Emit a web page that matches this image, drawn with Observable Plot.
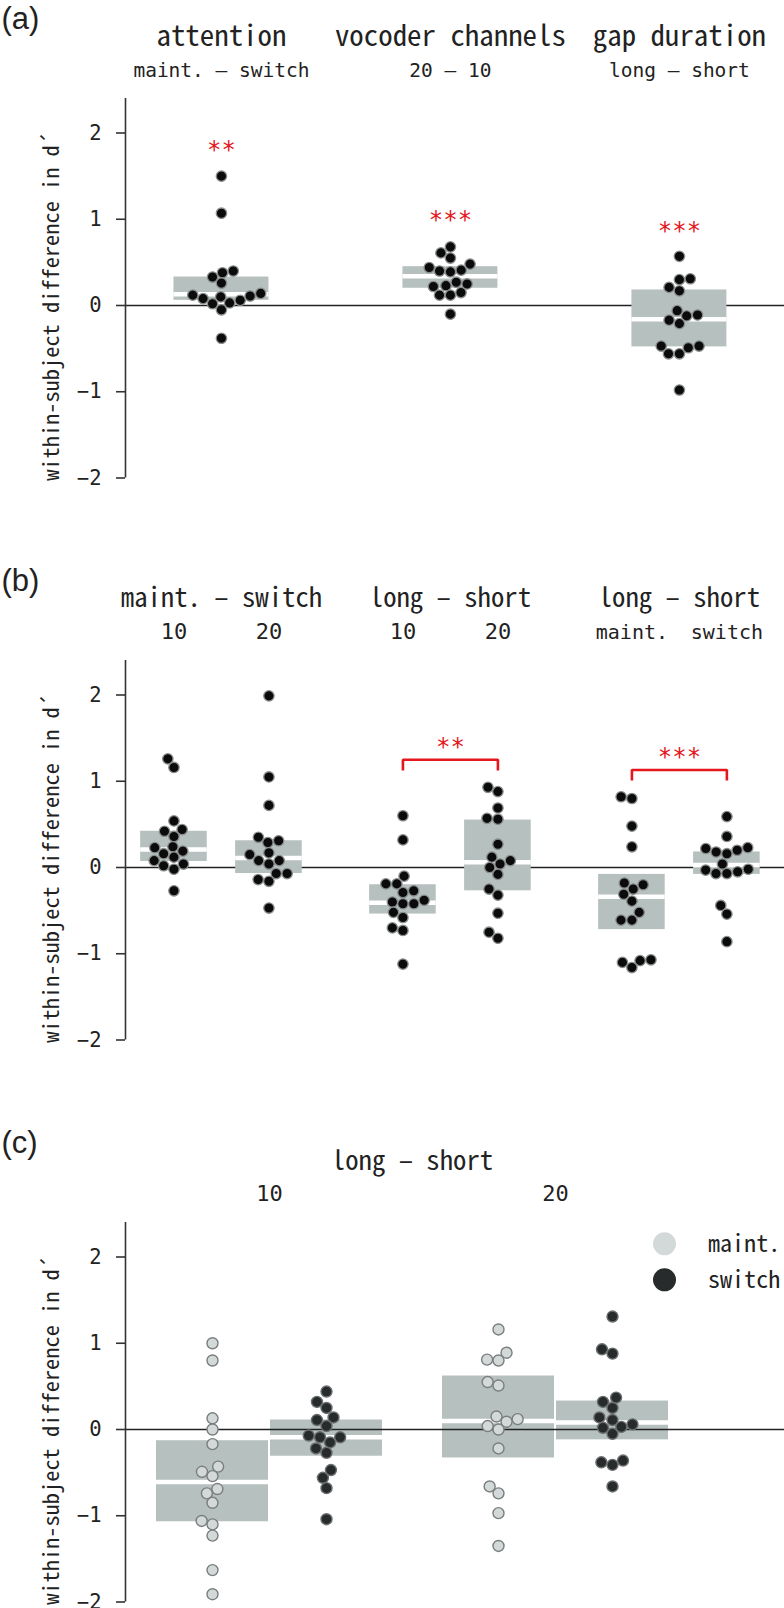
<!DOCTYPE html>
<html><head><meta charset="utf-8">
<script src="https://cdn.jsdelivr.net/npm/d3@7"></script>
<script src="https://cdn.jsdelivr.net/npm/@observablehq/plot@0.6"></script>
<style>
html,body{margin:0;padding:0;background:#fff;}
#chart{width:784px;}
#chart svg{display:block;}
</style>
</head><body><div id="chart"></div>
<script>
// ---------------- data ----------------
const yLabel = "within-subject difference in d´";
const yTicks = [-2, -1, 0, 1, 2];

// (a)
const aTitles = ["attention", "vocoder channels", "gap duration"];
const aSubtitles = ["maint. – switch", "20 – 10", "long – short"];
const aAttention = [1.50, 1.07, 0.40, 0.38, 0.33, 0.26, 0.14, 0.12, 0.11, 0.10, 0.08, 0.06, 0.03, 0.02, -0.05, -0.38];
const aVocoder = [0.68, 0.61, 0.55, 0.48, 0.44, 0.41, 0.40, 0.39, 0.27, 0.25, 0.23, 0.22, 0.15, 0.12, 0.12, -0.10];
const aGap = [0.57, 0.31, 0.30, 0.21, 0.17, -0.06, -0.11, -0.12, -0.17, -0.21, -0.47, -0.47, -0.49, -0.56, -0.56, -0.98];
const aBoxLow = [0.06, 0.20, -0.48];
const aBoxMid = [0.13, 0.34, -0.16];
const aBoxHigh = [0.33, 0.45, 0.18];
const aStars = ["**", "***", "***"];
const aStarY = [1.85, 1.04, 0.92];

// (b)
const bTitles = ["maint. – switch", "long – short", "long – short"];
const bSubtitles = ["10", "20", "10", "20", "maint.", "switch"];
const bMS10 = [1.26, 1.16, 0.54, 0.44, 0.42, 0.36, 0.24, 0.23, 0.19, 0.16, 0.12, 0.08, 0.04, 0.02, -0.02, -0.27];
const bMS20 = [1.99, 1.05, 0.72, 0.35, 0.31, 0.29, 0.17, 0.15, 0.08, 0.08, 0.04, -0.07, -0.07, -0.14, -0.16, -0.47];
const bLS10 = [0.60, 0.32, -0.10, -0.19, -0.19, -0.27, -0.29, -0.38, -0.40, -0.42, -0.42, -0.52, -0.58, -0.70, -0.73, -1.12];
const bLS20 = [0.93, 0.88, 0.69, 0.57, 0.56, 0.27, 0.12, 0.08, 0.04, 0.00, -0.08, -0.25, -0.32, -0.53, -0.75, -0.82];
const bLSmaint = [0.82, 0.80, 0.48, 0.24, -0.18, -0.20, -0.25, -0.31, -0.39, -0.52, -0.61, -0.61, -1.07, -1.08, -1.10, -1.16];
const bLSswitch = [0.59, 0.36, 0.23, 0.22, 0.20, 0.18, 0.16, 0.04, -0.02, -0.03, -0.05, -0.07, -0.07, -0.44, -0.54, -0.86];
const bBoxLow = [0.07, -0.07, -0.54, -0.27, -0.72, -0.08];
const bBoxMid = [0.21, 0.11, -0.41, 0.06, -0.34, 0.03];
const bBoxHigh = [0.42, 0.31, -0.20, 0.55, -0.08, 0.18];
const bStars = ["**", "***"];
const bStarY = [1.45, 1.33];
const bBracketTop = [1.25, 1.13];
const bBracketFoot = [1.125, 1.01];

// (c)
const cTitle = "long – short";
const cChannels = ["10", "20"];
const cConditions = ["maint.", "switch"];
const cMaint10 = [1.00, 0.80, 0.13, 0.00, -0.17, -0.43, -0.49, -0.54, -0.69, -0.74, -0.85, -1.06, -1.10, -1.23, -1.63, -1.91];
const cSwitch10 = [0.44, 0.32, 0.25, 0.14, 0.11, 0.04, -0.07, -0.09, -0.09, -0.15, -0.22, -0.27, -0.47, -0.56, -0.68, -1.04];
const cMaint20 = [1.16, 0.89, 0.81, 0.80, 0.55, 0.51, 0.15, 0.12, 0.09, 0.04, 0.00, -0.22, -0.66, -0.74, -0.97, -1.35];
const cSwitch20 = [1.31, 0.93, 0.88, 0.37, 0.32, 0.25, 0.14, 0.11, 0.06, 0.03, 0.02, -0.05, -0.36, -0.38, -0.41, -0.66];
const cBoxLow = [-1.07, -0.31, -0.33, -0.12];
const cBoxMid = [-0.61, -0.09, 0.10, 0.08];
const cBoxHigh = [-0.13, 0.11, 0.62, 0.33];

// ---------------- layout & style ----------------
const W = 784, ML = 125, MT = 98, FH = 379.5;
const YDOM = [-2, 2.4];
// half-width CJK monospace if present, else DejaVu Sans Mono (sizes scaled to keep the same text widths)
const probe = document.createElement("canvas").getContext("2d");
probe.font = "100px 'Noto Sans Mono CJK JP', serif";
const hasCJKMono = Math.abs(probe.measureText("iiiiiiiiii").width - 500) < 6;
const MONO = hasCJKMono ? "'Noto Sans Mono CJK JP', 'DejaVu Sans Mono', monospace" : "'DejaVu Sans Mono', monospace";
const K = hasCJKMono ? 0.602 / 0.5 : 1;
const DJV = "'DejaVu Sans Mono', monospace";
const PANELFONT = "'Liberation Sans', 'Noto Sans', sans-serif";
const INK = "#222";
const AXIS = "#333";
const RED = "#e5161c";
const BOXFILL = "#b6c0bf";
const BLACKDOT = {fill: "#0b0b0b", stroke: "#8a8e8e"};
const CONDSTYLE = {"maint.": {fill: "#d3d9d9", stroke: "#7a7e7e"}, "switch": {fill: "#272b2b", stroke: "#6b6f6f"}};
const intFormat = d3.format("d");
const fsz = (s) => s * K;

// seaborn-style beeswarm in pixel space (returns horizontal offsets in px)
function swarm(py, d) {
  const order = d3.range(py.length).sort((i, j) => py[j] - py[i]);
  const placed = [], out = new Array(py.length).fill(0);
  for (const i of order) {
    const y = py[i];
    const nb = placed.filter(p => Math.abs(p.y - y) < d);
    const cands = [0];
    let leftFirst = true;
    for (const p of nb) {
      const dx = Math.sqrt(Math.max(d * d - (y - p.y) ** 2, 0)) * 1.05;
      if (leftFirst) cands.push(p.x - dx, p.x + dx); else cands.push(p.x + dx, p.x - dx);
      leftFirst = !leftFirst;
    }
    const sorted = cands.map((c, k) => [Math.abs(c), k, c]).sort((u, v) => u[0] - v[0] || u[1] - v[1]);
    let chosen = 0;
    for (const [, , c] of sorted) {
      if (nb.every(p => Math.hypot(p.x - c, p.y - y) >= d - 1e-6)) { chosen = c; break; }
    }
    placed.push({x: chosen, y});
    out[i] = chosen;
  }
  return out;
}

function panel(cfg) {
  const {height, xDomain, columns, boxHalf, dotR, dotD, dotSW, zeroOnTop, label, headers, extra} = cfg;
  const MB = height - MT - FH;
  const xs = Plot.scale({x: {domain: xDomain, range: [ML, W]}});
  const ys = Plot.scale({y: {domain: YDOM, range: [MT + FH, MT]}});
  const dots = [];
  for (const col of columns) {
    const off = swarm(col.values.map(v => ys.apply(v)), dotD);
    const cx = xs.apply(col.x);
    col.values.forEach((v, k) => dots.push({x: xs.invert(cx + off[k]), y: v, kind: col.kind}));
  }
  const boxes = columns.map(c => ({x1: c.x - boxHalf, x2: c.x + boxHalf, lo: c.lo, mid: c.mid, hi: c.hi}));
  const zero = Plot.ruleY([0], {stroke: INK, strokeWidth: 1.6});
  const kinds = Array.from(new Set(dots.map(d => d.kind)));
  const dotMarks = kinds.map(k => Plot.dot(dots.filter(d => d.kind === k), {
    x: "x", y: "y", r: dotR, strokeWidth: dotSW, ...(k === "all" ? BLACKDOT : CONDSTYLE[k])
  }));
  const marks = [
    ...(zeroOnTop ? [] : [zero]),
    Plot.rect(boxes, {x1: "x1", x2: "x2", y1: "lo", y2: "hi", fill: BOXFILL}),
    Plot.ruleY(boxes, {y: "mid", x1: "x1", x2: "x2", stroke: "white", strokeWidth: 4.5}),
    ...(zeroOnTop ? [zero] : []),
    Plot.axisY({ticks: yTicks, tickFormat: intFormat, tickSize: 9, tickPadding: 15, fontSize: 20.5, fontFamily: DJV, stroke: AXIS, strokeWidth: 1.6, fill: INK, label: null}),
    Plot.ruleX([xDomain[0]], {y1: YDOM[0], y2: YDOM[1], stroke: AXIS, strokeWidth: 1.6}),
    Plot.text([label], {frameAnchor: "top-left", dx: -ML + 1, dy: -69.5, textAnchor: "start", lineAnchor: "bottom", fontSize: 31, fontFamily: PANELFONT, fill: INK}),
    Plot.text([yLabel], {frameAnchor: "left", dx: 58 - ML, dy: 18, rotate: -90, textAnchor: "middle", lineAnchor: "bottom", fontSize: fsz(18.6), fontFamily: MONO, fill: INK}),
    ...headers,
    ...(extra || []),
    ...dotMarks
  ];
  return Plot.plot({
    width: W, height, marginLeft: ML, marginRight: 0, marginTop: MT, marginBottom: MB,
    x: {domain: xDomain, axis: null},
    y: {domain: YDOM},
    style: {background: "white", color: INK, fontFamily: MONO, overflow: "visible"},
    marks
  });
}

// first header row: half-width CJK mono; second row: DejaVu Sans Mono (same advance widths)
const hdr = (data, x, dy, fontSize) => Plot.text(data, {x, text: d => d, frameAnchor: "top", dy, lineAnchor: "bottom", fontSize: fsz(fontSize), fontFamily: MONO, fill: INK});
const sub = (data, x, dy, fontSize) => Plot.text(data, {x, text: d => d, frameAnchor: "top", dy, lineAnchor: "bottom", fontSize, fontFamily: DJV, fill: INK});
const stars = (data, x, y) => Plot.text(data, {x, y, dy: 0.52 * 24, lineAnchor: "bottom", fontSize: 24, fontFamily: DJV, fill: RED});

// ---------------- panel (a) ----------------
const aValues = [aAttention, aVocoder, aGap];
const aCols = aValues.map((values, i) => ({x: i, values, kind: "all", lo: aBoxLow[i], mid: aBoxMid[i], hi: aBoxHigh[i]}));
const panelA = panel({
  height: 562, xDomain: [-0.419, 2.459], columns: aCols, boxHalf: 0.2074,
  dotR: 5.2, dotD: 10.4, dotSW: 1.3, zeroOnTop: false, label: "(a)",
  headers: [hdr(aTitles, (d, i) => i, -53, 24), sub(aSubtitles, (d, i) => i, -22, 19.5)],
  extra: [stars(aStars, (d, i) => i, (d, i) => aStarY[i])]
});

// ---------------- panel (b) ----------------
const bSide = 0.2074;
const bValues = [bMS10, bMS20, bLS10, bLS20, bLSmaint, bLSswitch];
const bColX = bValues.map((_, j) => Math.floor(j / 2) + (j % 2 ? bSide : -bSide));
const bCols = bValues.map((values, j) => ({x: bColX[j], values, kind: "all", lo: bBoxLow[j], mid: bBoxMid[j], hi: bBoxHigh[j]}));
const bBrackets = bStars.flatMap((s, k) => {
  const xl = bColX[2 + 2 * k], xr = bColX[3 + 2 * k];
  return [[xl, bBracketFoot[k]], [xl, bBracketTop[k]], [xr, bBracketTop[k]], [xr, bBracketFoot[k]]].map(([x, y]) => ({k, x, y}));
});
const panelB = panel({
  height: 562, xDomain: [-0.419, 2.459], columns: bCols, boxHalf: 0.1454,
  dotR: 5.2, dotD: 10.4, dotSW: 1.3, zeroOnTop: false, label: "(b)",
  headers: [hdr(bTitles, (d, i) => i, -53.3, 22.2), sub(bSubtitles.slice(0, 4), (d, j) => bColX[j], -21.7, 22), sub(bSubtitles.slice(4), (d, j) => bColX[j + 4], -21.7, 20)],
  extra: [
    Plot.line(bBrackets, {x: "x", y: "y", z: "k", stroke: RED, strokeWidth: 2.6, strokeLinejoin: "miter", strokeLinecap: "butt"}),
    stars(bStars, (d, k) => k + 1, (d, k) => bStarY[k])
  ]
});

// ---------------- panel (c) ----------------
const cSide = 0.1993;
const cValues = [cMaint10, cSwitch10, cMaint20, cSwitch20];
const cCols = cValues.map((values, j) => ({
  x: Math.floor(j / 2) + (j % 2 ? cSide : -cSide), values, kind: cConditions[j % 2],
  lo: cBoxLow[j], mid: cBoxMid[j], hi: cBoxHigh[j]
}));
const cLegend = cConditions.flatMap((cond, i) => [
  Plot.dot([cond], {frameAnchor: "top-left", dx: 539, dy: 21.3 + 36 * i, r: 11.5, fill: CONDSTYLE[cond].fill}),
  Plot.text([cond], {frameAnchor: "top-left", dx: 582.5, dy: 21.3 + 36 * i, textAnchor: "start", lineAnchor: "middle", fontSize: fsz(20), fontFamily: MONO, fill: INK})
]);
const panelC = panel({
  height: 484, xDomain: [-0.5035, 1.8007], columns: cCols, boxHalf: 0.1958,
  dotR: 5.5, dotD: 10.9, dotSW: 1.4, zeroOnTop: true, label: "(c)",
  headers: [hdr([cTitle], () => d3.mean(cChannels, (d, i) => i), -52.7, 22.2), sub(cChannels, (d, i) => i, -22, 22)],
  extra: cLegend
});

const root = document.getElementById("chart");
root.append(panelA, panelB, panelC);
</script></body></html>
